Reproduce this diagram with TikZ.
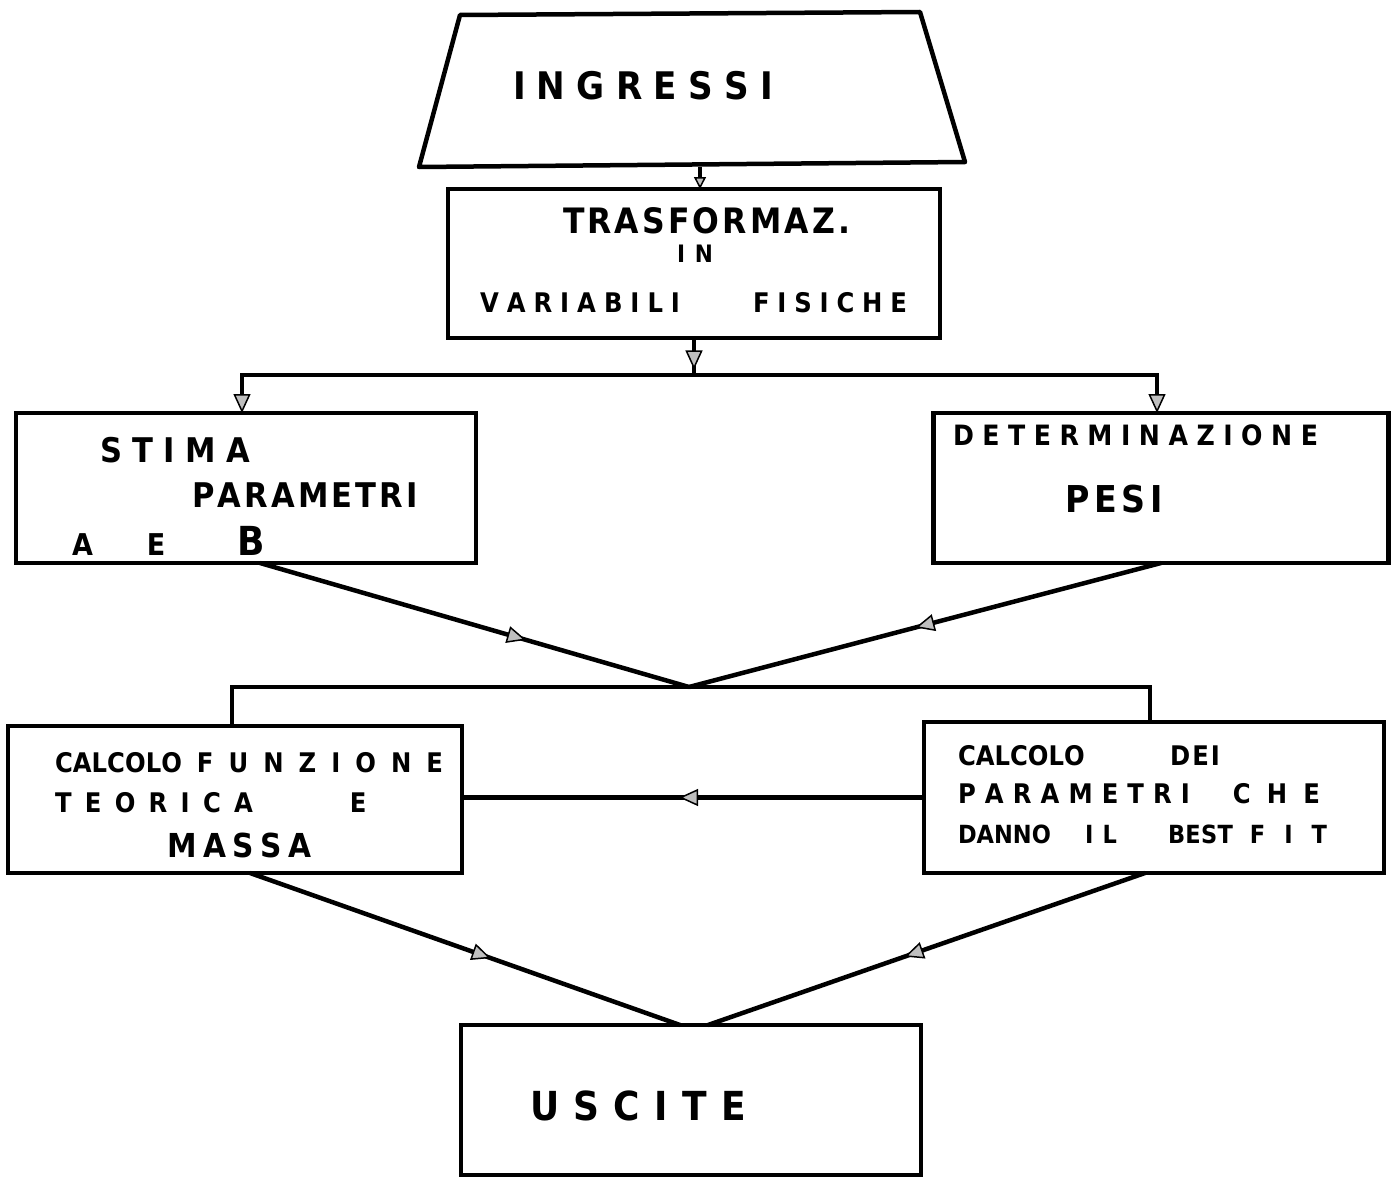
\documentclass[tikz,border=0pt]{standalone}
\usepackage{fontspec}
\setmainfont{DejaVu Sans}[FakeStretch=0.9]
\usetikzlibrary{arrows.meta,decorations.markings,calc}
\def\rsprA#1{#1\rsprB}
\def\rsprB#1{\ifx#1\relax\let\rsnext\relax\else\hfil#1\let\rsnext\rsprB\fi\rsnext}
\newcommand\spreadw[2]{\makebox[#1][s]{\rsprA#2\relax}}
\tikzset{
  box/.style={draw, line width=4.5pt, inner sep=0pt, outer sep=0pt},
  ln/.style={line width=4.5pt},
  txt/.style={anchor=base west, inner sep=0pt, outer sep=0pt},
  tipA/.tip={Triangle[width=17pt,length=19pt,line width=1.5pt,fill=gray!50]},
  tipS/.tip={Triangle[width=12pt,length=12pt,line width=1.5pt,fill=gray!50]},
  midarr/.style={postaction={decorate,decoration={markings,mark=at position #1 with {\arrow{tipA}}}}}
}
\begin{document}
\begin{tikzpicture}[x=1pt,y=-1pt]
\useasboundingbox[fill=white] (0,0) rectangle (1391,1180);
% trapezoid input
\draw[ln, line join=round] (460,15) -- (920,12) -- (965,162) -- (419,167) -- cycle;
\coordinate (inbot) at (700,167);
\node[txt, font=\bfseries\fontsize{38}{40}\selectfont] (tIn) at (513,100) {\spreadw{260pt}{INGRESSI}};
% boxes
\node[box, minimum width=492pt, minimum height=149pt] (tr) at (694,263.5) {};
\node[box, minimum width=460pt, minimum height=150pt] (st) at (246,488) {};
\node[box, minimum width=455pt, minimum height=150pt] (de) at (1161,488) {};
\node[box, minimum width=454pt, minimum height=147pt] (cf) at (235,799.5) {};
\node[box, minimum width=460pt, minimum height=151pt] (cd) at (1154,797.5) {};
\node[box, minimum width=460pt, minimum height=150pt] (us) at (691,1100) {};
% texts
\node[txt, font=\bfseries\fontsize{35}{38}\selectfont] (tTr1) at (563,233) {\spreadw{287pt}{TRASFORMAZ.}};
\node[txt, font=\bfseries\fontsize{24}{25}\selectfont] (tTr2) at (677,262) {\spreadw{36pt}{IN}};
\node[txt, font=\bfseries\fontsize{27}{28}\selectfont] (tTr3) at (480,312) {\spreadw{200pt}{VARIABILI}\hspace{73pt}\spreadw{154pt}{FISICHE}};
\node[txt, font=\bfseries\fontsize{34}{36}\selectfont] (tSt1) at (100,462) {\spreadw{150pt}{STIMA}};
\node[txt, font=\bfseries\fontsize{34}{36}\selectfont] (tSt2) at (192,507) {\spreadw{226pt}{PARAMETRI}};
\node[txt, font=\bfseries\fontsize{30}{32}\selectfont] (tSt3) at (72,555) {A\hspace{54pt}E\hspace{72pt}{\fontsize{40}{40}\selectfont B}};
\node[txt, font=\bfseries\fontsize{28}{29}\selectfont] (tDe1) at (953,445) {\spreadw{365pt}{DETERMINAZIONE}};
\node[txt, font=\bfseries\fontsize{37}{38}\selectfont] (tDe2) at (1065,512) {\spreadw{98pt}{PESI}};
\node[txt, font=\bfseries\fontsize{27}{28}\selectfont] (tCf1) at (55,772) {\spreadw{127pt}{CALCOLO}\hspace{15pt}\spreadw{246pt}{FUNZIONE}};
\node[txt, font=\bfseries\fontsize{27}{29}\selectfont] (tCf2) at (55,812) {\spreadw{198pt}{TEORICA}\hspace{97pt}E};
\node[txt, font=\bfseries\fontsize{33}{34}\selectfont] (tCf3) at (167,857) {\spreadw{145pt}{MASSA}};
\node[txt, font=\bfseries\fontsize{27}{30}\selectfont] (tCd1) at (958,765) {\spreadw{124pt}{CALCOLO}\hspace{88pt}\spreadw{50pt}{DEI}};
\node[txt, font=\bfseries\fontsize{27}{28}\selectfont] (tCd2) at (958,803) {\spreadw{232pt}{PARAMETRI}\hspace{43pt}\spreadw{87pt}{CHE}};
\node[txt, font=\bfseries\fontsize{25}{28}\selectfont] (tCd3) at (958,843) {\spreadw{92pt}{DANNO}\hspace{35pt}\spreadw{32pt}{IL}\hspace{51pt}\spreadw{65pt}{BEST}\hspace{17pt}\spreadw{77pt}{FIT}};
\node[txt, font=\bfseries\fontsize{40}{42}\selectfont] (tUs) at (530,1120) {\spreadw{216pt}{USCITE}};
% connectors
\draw[ln, -tipS] (inbot) -- ([xshift=6pt]tr.north);
\coordinate (j1) at (694,375);
\draw[ln, midarr=0.85] (tr.south) -- (j1);
\draw[ln, -tipA] (j1) -| ([xshift=-4pt]st.north);
\draw[ln, -tipA] (j1) -| ([xshift=-4pt]de.north);
\coordinate (j2) at (689,687);
\draw[ln, midarr=0.62] ([xshift=14pt]st.south) -- (j2);
\draw[ln, midarr=0.52] (de.south) -- (j2);
\draw[ln] (j2) -| ([xshift=-3pt]cf.north);
\draw[ln] (j2) -| ([xshift=-4pt]cd.north);
\draw[ln, midarr=0.53] (cd.west) -- (cd.west -| cf.east);
\draw[ln, midarr=0.56] ([xshift=15pt]cf.south) -- ([xshift=-11pt]us.north);
\draw[ln, midarr=0.55] ([xshift=-9pt]cd.south) -- ([xshift=17pt]us.north);
\end{tikzpicture}
\end{document}
